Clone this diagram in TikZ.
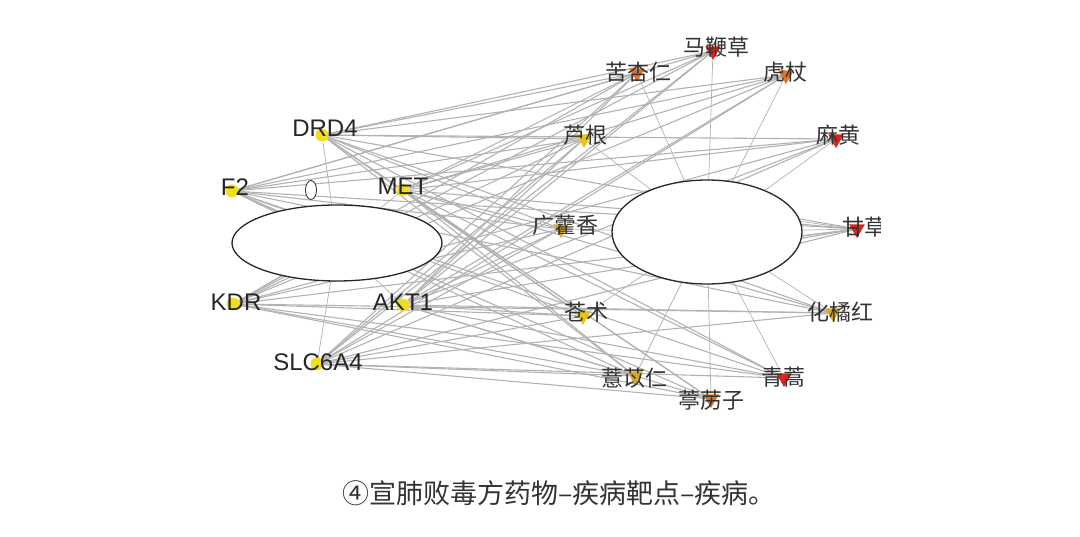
\documentclass[tikz,border=0pt]{standalone}
\usepackage{fontspec}
\setmainfont{Liberation Sans}
\newfontfamily\cjk{Noto Sans CJK SC}
\usetikzlibrary{shapes.geometric,backgrounds}

\definecolor{mkyellow}{HTML}{F2DE1E}
\definecolor{mkred}{HTML}{D9261C}
\definecolor{mkorange}{HTML}{E0702A}
\definecolor{mkamber}{HTML}{D9A62A}
\definecolor{mkgold}{HTML}{E8C418}

\begin{document}
\begin{tikzpicture}[
    x=1pt, y=-1pt,
    target/.style={font=\fontsize{24}{26}\selectfont, text=black!85, inner sep=0pt},
    herb/.style={font=\cjk\fontsize{22}{24}\selectfont, text=black!80, inner sep=0pt},
    tmark/.style={circle, fill=mkyellow, minimum size=13pt, inner sep=0pt},
    hmark/.style={regular polygon, regular polygon sides=3, shape border rotate=180,
                  minimum size=18pt, inner sep=0pt, fill=#1},
    hub/.style={ellipse, draw=black!85, line width=1.3pt, fill=white, inner sep=0pt},
    edge/.style={draw=gray!60, line width=1.1pt},
    hubedge/.style={draw=gray!60, line width=0.7pt}
]
\useasboundingbox (0,0) rectangle (1080,537);

% --- Hubs ---
\node[hub, minimum width=210pt, minimum height=76pt] (hubL) at (337,243) {};
\node[hub, minimum width=190pt, minimum height=104pt] (hubR) at (707,232) {};
\node[hub, line width=0.8pt, minimum width=11pt, minimum height=19pt] (small) at (311,190) {};

% --- Targets ---
\node[tmark] (drd4) at (322,135) {};
\node[tmark] (f2)   at (232,191) {};
\node[tmark] (met)  at (403,190) {};
\node[tmark] (kdr)  at (233,304) {};
\node[tmark] (akt1) at (403,305) {};
\node[tmark] (slc)  at (317,364) {};

\node[target] (drd4-l) at (325,128) {DRD4};
\node[target] (f2-l)   at (235,187) {F2};
\node[target] (met-l)  at (403,186) {MET};
\node[target] (kdr-l)  at (236,302) {KDR};
\node[target] (akt1-l) at (403,302) {AKT1};
\node[target] (slc-l)  at (318,362) {SLC6A4};

% --- Herbs ---
\node[hmark=mkred]    (mbc) at (713,51) {};
\node[hmark=mkorange] (kxr) at (637,73) {};
\node[hmark=mkorange] (hz)  at (786,75) {};
\node[hmark=mkgold]   (lg)  at (584,139) {};
\node[hmark=mkred]    (mh)  at (836,139) {};
\node[hmark=mkamber]  (ghx) at (561,229) {};
\node[hmark=mkred]    (gc)  at (857,229) {};
\node[hmark=mkgold]   (cz)  at (583,316) {};
\node[hmark=mkamber]  (hjh) at (833,313) {};
\node[hmark=mkamber]  (yyr) at (635,376) {};
\node[hmark=mkorange] (tlz) at (711,399) {};
\node[hmark=mkred]    (qh)  at (784,378) {};

\node[herb] (mbc-l) at (716,47)  {马鞭草};
\node[herb] (kxr-l) at (638,72)  {苦杏仁};
\node[herb] (hz-l)  at (785,72)  {虎杖};
\node[herb] (lg-l)  at (585,135) {芦根};
\node[herb] (mh-l)  at (838,135) {麻黄};
\node[herb] (ghx-l) at (565,225) {广藿香};
\node[herb] (cz-l)  at (586,312) {苍术};
\node[herb] (hjh-l) at (840,312) {化橘红};
\node[herb] (yyr-l) at (634,378) {薏苡仁};
\node[herb] (tlz-l) at (711,400) {葶苈子};
\node[herb] (qh-l)  at (783,377) {青蒿};
\begin{scope}
  \clip (0,0) rectangle (880,537);
  \node[herb] (gc-l) at (864,227) {甘草};
\end{scope}

% --- Edges ---
\begin{scope}[on background layer]
  \foreach \t in {drd4,f2,met,kdr,akt1,slc} {
    \foreach \h in {mbc,kxr,hz,lg,mh,ghx,gc,cz,hjh,yyr,tlz,qh} {
      \draw[edge] (\t) -- (\h);
    }
  }
  \foreach \h in {mbc,kxr,hz,lg,mh,ghx,gc,cz,hjh,yyr,tlz,qh} {
    \draw[hubedge] (\h) -- (hubR.center);
  }
  \draw[hubedge] (gc) -- ++(-60,-8);
  \draw[hubedge] (gc) -- ++(-60,8);
  \foreach \t in {drd4,f2,met,kdr,akt1,slc} {
    \draw[hubedge] (\t) -- (hubL.center);
  }
\end{scope}

% --- Caption ---
\node[font=\cjk\fontsize{27}{29}\selectfont, text=black!80] (caption) at (559,493)
  {④宣肺败毒方药物–疾病靶点–疾病。};

\end{tikzpicture}
\end{document}
